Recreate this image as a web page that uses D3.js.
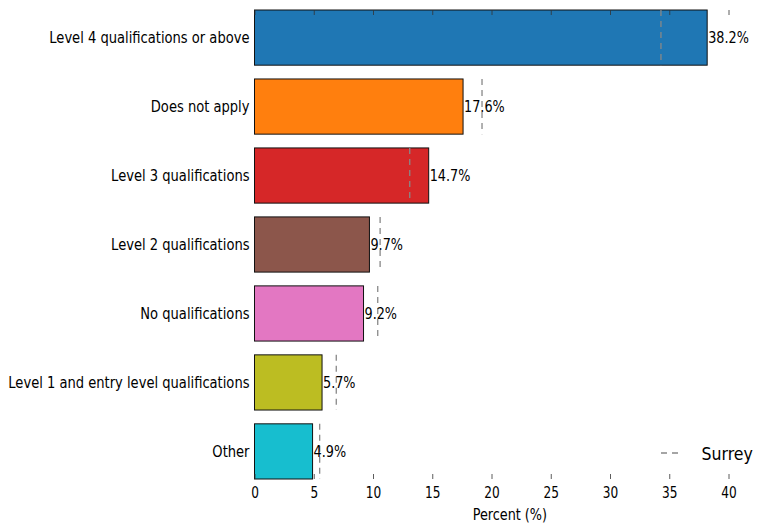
<!DOCTYPE html>
<html>
<head>
<meta charset="utf-8">
<script src="https://cdn.jsdelivr.net/npm/d3@7"></script>
<style>
  html, body { margin: 0; padding: 0; background: #fff; }
  svg { display: block; font-family: "DejaVu Sans Condensed", "DejaVu Sans", sans-serif; }
</style>
</head>
<body>
<svg id="chart" width="774" height="532"></svg>
<script>
const categories = [
  "Level 4 qualifications or above",
  "Does not apply",
  "Level 3 qualifications",
  "Level 2 qualifications",
  "No qualifications",
  "Level 1 and entry level qualifications",
  "Other"
];
const values = [38.2, 17.6, 14.7, 9.7, 9.2, 5.7, 4.9];
const surreyValues = [34.3, 19.2, 13.1, 10.6, 10.4, 6.9, 5.5];
const colors = ["#1f77b4", "#ff7f0e", "#d62728", "#8c564b", "#e377c2", "#bcbd22", "#17becf"];
const xTicks = [0, 5, 10, 15, 20, 25, 30, 35, 40];
const legendLabel = "Surrey";
const xLabel = "Percent (%)";

(function () {
const svg = d3.select("#chart");
const plotLeft = 254.5, plotTop = 10, plotBottom = 479;
const x = d3.scaleLinear().domain([0, 40]).range([plotLeft, 728.5]);
const axesRight = x(43.1);
const y = d3.scaleBand().domain(categories).range([plotTop, plotBottom])
  .paddingInner(0.2).paddingOuter(0);
const ff = "DejaVu Sans Condensed, DejaVu Sans, sans-serif";

function squeeze(sel, sx) {
  sel.each(function () {
    const t = d3.select(this);
    const xx = +(t.attr("x") || 0);
    t.attr("x", xx / sx).attr("transform", `scale(${sx},1)`);
  });
}

const data = categories.map((c, i) => ({ c, v: values[i], s: surreyValues[i], col: colors[i] }));

svg.append("g").selectAll("rect").data(data).join("rect")
  .attr("x", x(0))
  .attr("y", d => y(d.c))
  .attr("width", d => x(d.v) - x(0))
  .attr("height", y.bandwidth())
  .attr("fill", d => d.col)
  .attr("stroke", "#111")
  .attr("stroke-width", 1);

svg.append("g").selectAll("line").data(data).join("line")
  .attr("x1", d => x(d.s)).attr("x2", d => x(d.s))
  .attr("y1", d => y(d.c)).attr("y2", d => y(d.c) + y.bandwidth())
  .attr("stroke", "#888")
  .attr("stroke-width", 1.3)
  .attr("stroke-dasharray", "6,5");

const vl = svg.append("g").selectAll("text").data(data).join("text")
  .attr("x", d => x(d.v) + 1)
  .attr("y", d => y(d.c) + y.bandwidth() / 2)
  .attr("dy", "0.36em")
  .attr("font-size", 16)
  .attr("font-family", ff)
  .attr("fill", "#000")
  .text(d => d.v.toFixed(1) + "%");
squeeze(vl, 0.89);

const yAxis = svg.append("g").attr("transform", `translate(${x(0)},0)`)
  .call(d3.axisLeft(y).tickSize(0).tickPadding(5));
yAxis.select(".domain").remove();
yAxis.selectAll("text").attr("font-size", 16).attr("fill", "#000").attr("font-family", ff)
  .attr("dy", "0.34em");
squeeze(yAxis.selectAll("text"), 0.91);

const bottomAxis = svg.append("g").attr("transform", `translate(0,${plotBottom})`)
  .call(d3.axisBottom(x).tickValues(xTicks).tickSize(-5).tickPadding(8).tickFormat(d3.format("d")));
bottomAxis.select(".domain").remove();
bottomAxis.selectAll("line").attr("stroke", "#333").attr("stroke-width", 0.8);
bottomAxis.selectAll("text").attr("font-size", 15).attr("fill", "#000").attr("font-family", ff);
squeeze(bottomAxis.selectAll("text"), 0.9);

const topAxis = svg.append("g").attr("transform", `translate(0,${plotTop})`)
  .call(d3.axisTop(x).tickValues(xTicks).tickSize(-5).tickFormat(""));
topAxis.select(".domain").remove();
topAxis.selectAll("line").attr("stroke", "#333").attr("stroke-width", 0.8);

const xl = svg.append("text")
  .attr("x", (x(0) + axesRight) / 2)
  .attr("y", 520)
  .attr("text-anchor", "middle")
  .attr("font-size", 15.5)
  .attr("font-family", ff)
  .attr("fill", "#000")
  .text(xLabel);
squeeze(xl, 0.92);

const lg = svg.append("g");
lg.append("line")
  .attr("x1", 661).attr("x2", 682)
  .attr("y1", 453).attr("y2", 453)
  .attr("stroke", "#888").attr("stroke-width", 1.3)
  .attr("stroke-dasharray", "6,5");
const lt = lg.append("text")
  .attr("x", 701.5).attr("y", 453)
  .attr("dy", "0.36em")
  .attr("font-size", 18.5)
  .attr("font-family", ff)
  .attr("fill", "#000")
  .text(legendLabel);
squeeze(lt, 0.95);
})();
</script>
</body>
</html>
